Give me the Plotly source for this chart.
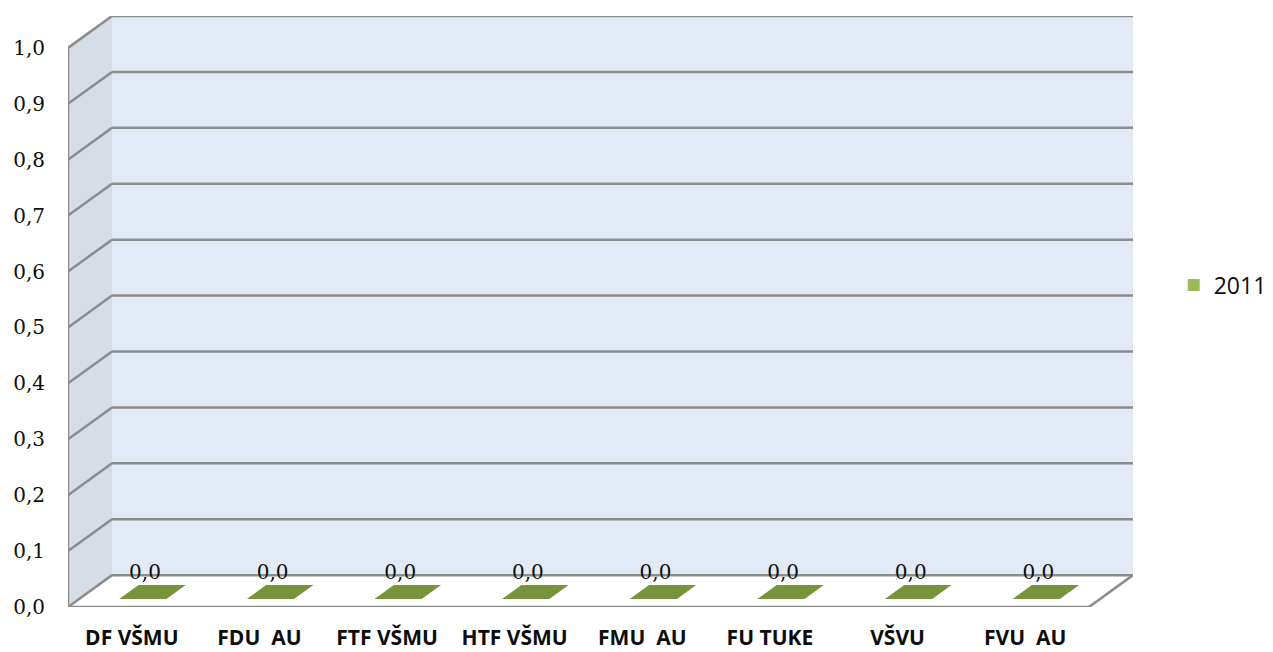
import plotly.graph_objects as go

# Series and axis data
categories = ["DF VŠMU", "FDU  AU", "FTF VŠMU", "HTF VŠMU", "FMU  AU", "FU TUKE", "VŠVU", "FVU  AU"]
values_2011 = [0.0, 0.0, 0.0, 0.0, 0.0, 0.0, 0.0, 0.0]
series_name = "2011"
y_ticks = [0.0, 0.1, 0.2, 0.3, 0.4, 0.5, 0.6, 0.7, 0.8, 0.9, 1.0]
y_max = 1.0

# Pseudo-3D geometry, in axis units
DX = 0.345          # horizontal depth offset of the back wall
DY = 0.057          # vertical depth offset of the back wall
BAR_W = 0.37        # bar width
D0, D1 = 0.25, 0.69 # bar front / back depth fractions
LABEL_DEPTH = 0.30
LABEL_LIFT = 0.059

WALL = "#e1eaf5"
SIDE = "#d6dde7"
EDGE = "#8c8c8c"
FRONT = "#9bbb59"
TOP = "#77933c"
SIDE_BAR = "#5f7530"
TEXT = "#0d0d0d"

n = len(categories)
x_lo, x_hi = -0.5, n - 0.5
xs = list(range(n))

fig = go.Figure()

shapes = []
# back wall
shapes.append(dict(type="rect", xref="x", yref="y", layer="below",
                   x0=x_lo + DX, x1=x_hi + DX, y0=DY, y1=y_max + DY,
                   fillcolor=WALL, line=dict(width=0)))
# left side wall
shapes.append(dict(type="path", xref="x", yref="y", layer="below",
                   path=f"M{x_lo},0 L{x_lo + DX},{DY} L{x_lo + DX},{y_max + DY} L{x_lo},{y_max} Z",
                   fillcolor=SIDE, line=dict(width=0)))
# floor
shapes.append(dict(type="path", xref="x", yref="y", layer="below",
                   path=f"M{x_lo},0 L{x_hi},0 L{x_hi + DX},{DY} L{x_lo + DX},{DY} Z",
                   fillcolor="white", line=dict(width=0)))
# gridlines on back wall and side wall
for t in y_ticks:
    shapes.append(dict(type="line", xref="x", yref="y", layer="below",
                       x0=x_lo + DX, x1=x_hi + DX, y0=t + DY, y1=t + DY,
                       line=dict(color=EDGE, width=2.5)))
    shapes.append(dict(type="line", xref="x", yref="y", layer="below",
                       x0=x_lo, x1=x_lo + DX, y0=t, y1=t + DY,
                       line=dict(color=EDGE, width=2.5)))
# front edges
shapes.append(dict(type="line", xref="x", yref="y", layer="below",
                   x0=x_lo, x1=x_lo, y0=0, y1=y_max, line=dict(color=EDGE, width=2.5)))
shapes.append(dict(type="line", xref="x", yref="y", layer="below",
                   x0=x_lo, x1=x_hi, y0=0, y1=0, line=dict(color=EDGE, width=2.5)))
shapes.append(dict(type="line", xref="x", yref="y", layer="below",
                   x0=x_hi, x1=x_hi + DX, y0=0, y1=DY, line=dict(color=EDGE, width=2.5)))

# bar front faces (legend entry)
fig.add_trace(go.Bar(
    x=[x + D0 * DX for x in xs], y=values_2011, base=D0 * DY, width=BAR_W,
    marker=dict(color=FRONT, line=dict(width=0)), name=series_name,
    hoverinfo="skip", showlegend=True))

# bar top and side faces
for x, v in zip(xs, values_2011):
    x0 = x - BAR_W / 2 + D0 * DX
    x1 = x + BAR_W / 2 + D0 * DX
    sx = (D1 - D0) * DX
    yf = v + D0 * DY
    yb = v + D1 * DY
    fig.add_trace(go.Scatter(
        x=[x1, x1 + sx, x1 + sx, x1, x1], y=[D0 * DY, D1 * DY, yb, yf, D0 * DY],
        fill="toself", fillcolor=SIDE_BAR, mode="lines", line=dict(width=0),
        showlegend=False, hoverinfo="skip"))
    fig.add_trace(go.Scatter(
        x=[x0, x1, x1 + sx, x0 + sx, x0], y=[yf, yf, yb, yb, yf],
        fill="toself", fillcolor=TOP, mode="lines", line=dict(width=0),
        showlegend=False, hoverinfo="skip"))

# value labels
fig.add_trace(go.Scatter(
    x=[x + LABEL_DEPTH * DX for x in xs], y=[v + LABEL_LIFT for v in values_2011],
    mode="text", text=[f"{v:.1f}".replace(".", ",") for v in values_2011],
    textposition="middle center",
    textfont=dict(family="DejaVu Serif", size=20, color=TEXT),
    showlegend=False, hoverinfo="skip"))

fig.update_layout(
    width=1273, height=652,
    margin=dict(l=68, r=140, t=16, b=45, pad=0),
    paper_bgcolor="white", plot_bgcolor="white",
    separators=", ",
    shapes=shapes,
    bargap=0,
    xaxis=dict(range=[x_lo, x_hi + DX], tickvals=xs, ticktext=categories,
               showgrid=False, zeroline=False, showline=False, ticks="",
               automargin=False, ticklabelstandoff=16,
               tickfont=dict(family="Open Sans", size=21, color=TEXT, weight="bold")),
    yaxis=dict(range=[0, y_max + DY], tickvals=y_ticks,
               ticktext=[f"{t:.1f}".replace(".", ",") for t in y_ticks],
               showgrid=False, zeroline=False, showline=False, ticks="",
               automargin=False, ticklabelstandoff=22,
               tickfont=dict(family="DejaVu Serif", size=20, color=TEXT)),
    legend=dict(xref="container", yref="container", x=0.922, y=1 - 285 / 652,
                xanchor="left", yanchor="middle",
                font=dict(family="Open Sans", size=23, color=TEXT),
                bgcolor="rgba(0,0,0,0)"),
)

fig.write_html("out.html")
